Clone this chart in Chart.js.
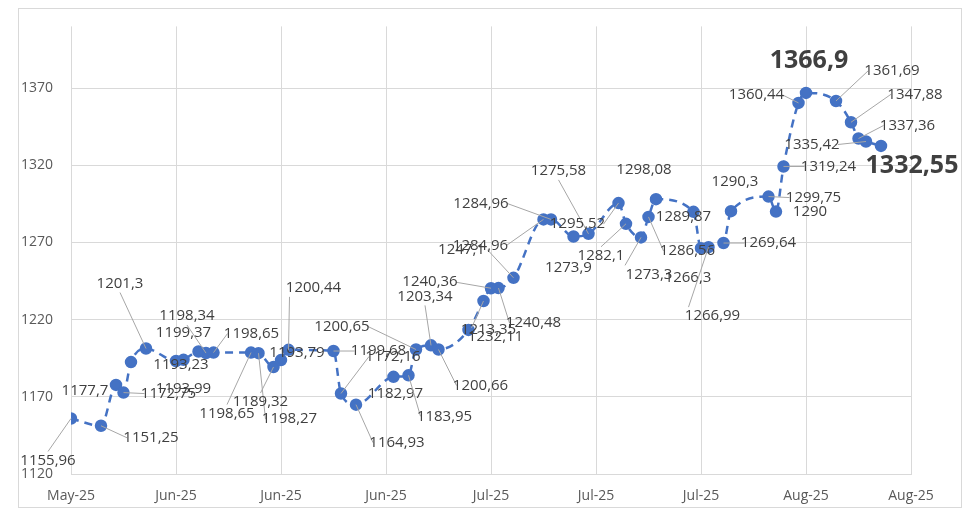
<!DOCTYPE html>
<html><head><meta charset="utf-8">
<script src="https://cdn.jsdelivr.net/npm/chart.js@4.4.1/dist/chart.umd.min.js"></script>
<style>
html,body{margin:0;background:#fff}
#wrap{position:relative;width:980px;height:520px}
#frame{position:absolute;left:18px;top:8px;width:944px;height:500px;border:1px solid #d9d9d9;box-sizing:border-box}
</style></head><body>
<div id="wrap"><div id="frame"></div><canvas id="c" width="980" height="520"></canvas></div>
<script>
// day offset from start of series, price
const days = [0,4,6,7,8,10,14,15,17,18,19,24,25,27,28,29,35,36,38,43,45,46,48,49,53,55,56,57,59,63,64,67,69,73,74,76,77,78,83,84,85,87,88,93,94,95,97,98,102,104,105,106,108];
const prices = [1155.96,1151.25,1177.7,1172.75,1192.5,1201.3,1193.23,1193.99,1199.37,1198.34,1198.65,1198.65,1198.27,1189.32,1193.79,1200.44,1199.68,1172.16,1164.93,1182.97,1183.95,1200.65,1203.34,1200.66,1213.35,1232.11,1240.36,1240.48,1247.1,1284.96,1284.96,1273.9,1275.58,1295.52,1282.1,1273.3,1286.56,1298.08,1289.87,1266.3,1266.99,1269.64,1290.3,1299.75,1290,1319.24,1360.44,1366.9,1361.69,1347.88,1337.36,1335.42,1332.55];
const tickLabels = ['May-25','Jun-25','Jun-25','Jun-25','Jul-25','Jul-25','Jul-25','Aug-25','Aug-25'];
const yTicks = [1120,1170,1220,1270,1320,1370];

// label placement (pixels from point), null = no label
const labelOffsets = [[-23,42],[50,12],[-31,6],[45,1],null,[-26,-65],[5,4],[0,29],[-15,-19],[-19,-37],[38,-19],[-24,61],[31,66],[-13,35],[16,-7],[25,-62],[45,0],[52,-37],[41,38],[2,17],[36,41],[-74,-23],[-6,-49],[42,36],[20,0],[12,36],[-61,-6],[35,35],[-52,-28],[-63,26],[-70,-16],[-5,31],[-30,-63],[-41,21],[-25,32],[8,37],[39,34],[-12,-29],[-10,5],[-13,30],[4,69],[45,0],[4,-29],[45,1],[34,0],[45,0],[-42,-8],[3,-32],[56,-30],[64,-28],[49,-13],[-54,3],[31,20]];
const bigLabels = [47, 52];
const FONT = '"Open Sans", "Liberation Sans", Arial, sans-serif';

const fmt = v => String(v).replace('.', ',');

const labelPlugin = {
  id: 'pointLabels',
  afterDatasetsDraw(chart) {
    const ctx = chart.ctx;
    const meta = chart.getDatasetMeta(0);
    ctx.save();
    meta.data.forEach((pt, i) => {
      const off = labelOffsets[i];
      if (!off) return;
      const lx = pt.x + off[0], ly = pt.y + off[1];
      const big = bigLabels.includes(i);
      if (!big && Math.hypot(off[0], off[1]) > 34) {
        ctx.strokeStyle = '#a6a6a6'; ctx.lineWidth = 1;
        ctx.beginPath(); ctx.moveTo(pt.x, pt.y);
        ctx.lineTo(lx + (off[0] > 0 ? -24 : off[0] < -30 ? 26 : 0), ly + (Math.abs(off[0]) > 30 ? 0 : off[1] > 0 ? -9 : 9));
        ctx.stroke();
      }
      ctx.fillStyle = '#404040';
      ctx.font = big ? 'bold 25px ' + FONT : '15px ' + FONT;
      ctx.textAlign = 'center'; ctx.textBaseline = 'middle';
      ctx.fillText(fmt(prices[i]), lx, ly);
    });
    ctx.restore();
  }
};

new Chart(document.getElementById('c'), {
  type: 'line',
  data: { datasets: [{
    data: days.map((d, i) => ({ x: d, y: prices[i] })),
    borderColor: '#4472c4', borderWidth: 2.5, borderDash: [8, 6],
    pointRadius: 5, pointBackgroundColor: '#4472c4', pointBorderColor: '#4472c4',
    cubicInterpolationMode: 'monotone', fill: false
  }]},
  options: {
    responsive: false, animation: false,
    layout: { padding: { left: 18, right: 69, top: 19, bottom: 12 } },
    plugins: { legend: { display: false }, tooltip: { enabled: false } },
    scales: {
      x: {
        type: 'linear', min: 0, max: 112,
        afterBuildTicks: ax => { ax.ticks = tickLabels.map((_, i) => ({ value: i * 14 })); },
        afterFit: ax => { ax.height = 34; },
        grid: { color: '#d9d9d9', drawTicks: false },
        border: { color: '#d9d9d9' },
        ticks: { padding: 14, color: '#595959', font: { size: 14, family: FONT },
          callback: (v) => tickLabels[Math.round(v / 14)] }
      },
      y: {
        min: 1120, max: 1410,
        afterBuildTicks: ax => { ax.ticks = yTicks.map(v => ({ value: v })); },
        afterFit: ax => { ax.width = 53; },
        grid: { color: '#d9d9d9', drawTicks: false },
        border: { display: false },
        ticks: { padding: 18, color: '#595959', font: { size: 14, family: FONT },
          callback: v => String(v) }
      }
    }
  },
  plugins: [labelPlugin]
});
</script>
</body></html>
